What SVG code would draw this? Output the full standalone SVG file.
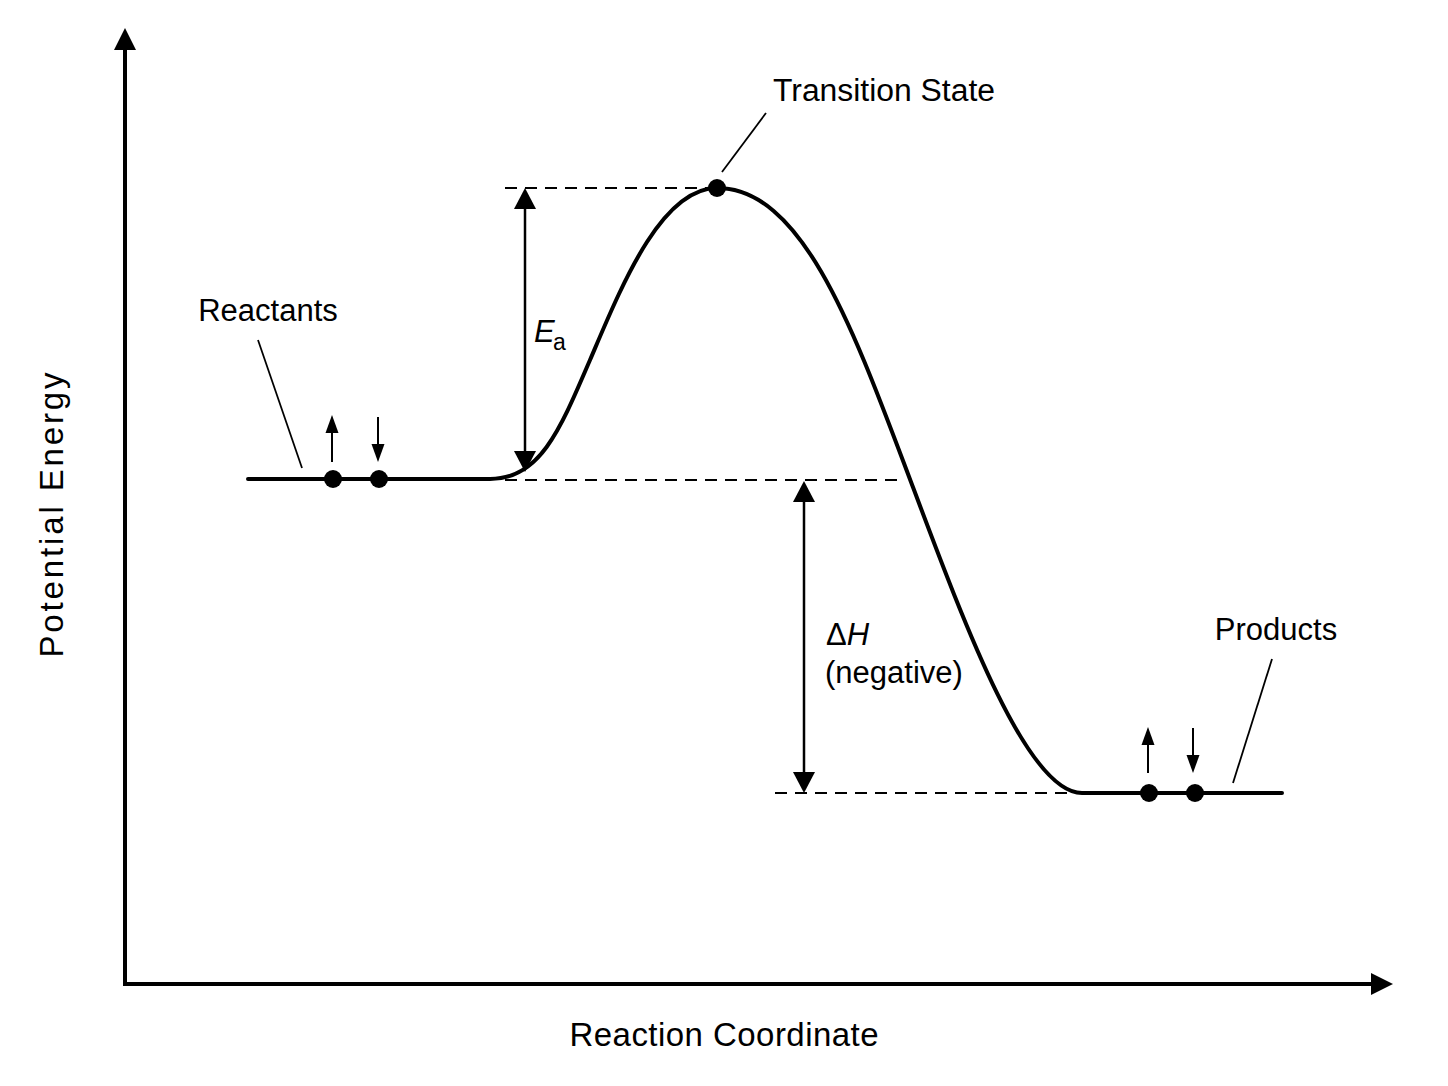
<svg xmlns="http://www.w3.org/2000/svg" width="1448" height="1086" viewBox="0 0 1448 1086">
<defs>
<style>
text{font-family:"Liberation Sans",Arial,sans-serif;fill:#000}
.lbl{font-size:31px}
.ax{font-size:33px}
.curve{fill:none;stroke:#000;stroke-width:4;stroke-linejoin:round;stroke-linecap:round}
.dash{fill:none;stroke:#000;stroke-width:2;stroke-dasharray:12 8}
.dim{fill:none;stroke:#000;stroke-width:2.5}
.lead{fill:none;stroke:#000;stroke-width:1.8}
.axis{fill:none;stroke:#000;stroke-width:4}
.spin{fill:none;stroke:#000;stroke-width:2}
</style>
</defs>
<rect width="1448" height="1086" fill="#fff"/>
<g id="axes">
<line class="axis" x1="125" y1="986" x2="125" y2="46"/>
<polygon points="125,28 114,50 136,50"/>
<line class="axis" x1="123" y1="984" x2="1374" y2="984"/>
<polygon points="1393,984 1371,973 1371,995"/>
<text class="ax" transform="translate(63,515) rotate(-90)" text-anchor="middle" font-size="35" textLength="285" lengthAdjust="spacing">Potential Energy</text>
<text class="ax" x="724" y="1046" text-anchor="middle" textLength="309" lengthAdjust="spacing">Reaction Coordinate</text>
</g>
<g id="guides">
<line class="dash" x1="505" y1="188" x2="712" y2="188"/>
<line class="dash" x1="505" y1="480" x2="905" y2="480"/>
<line class="dash" x1="775" y1="793" x2="1075" y2="793"/>
</g>
<g id="energy-curve">
<path class="curve" d="M248,479 L490,479 C540,479 560,430 590,360 C620,290 660,188 717,188 C800,188 850,320 905,466 C960,612 1025,793 1082,793 L1282,793"/>
</g>
<g id="reactants">
<circle cx="333" cy="479" r="9"/>
<circle cx="379" cy="479" r="9"/>
<line class="spin" x1="332" y1="462" x2="332" y2="430"/>
<polygon points="332,415 325.5,433 338.5,433"/>
<line class="spin" x1="378" y1="417" x2="378" y2="447"/>
<polygon points="378,462 371.5,444 384.5,444"/>
<line class="lead" x1="258" y1="340" x2="302" y2="468"/>
<text class="lbl" x="268" y="321" text-anchor="middle">Reactants</text>
</g>
<g id="transition-state">
<circle cx="717" cy="188" r="9"/>
<line class="lead" x1="766" y1="113" x2="722" y2="172"/>
<text class="lbl" x="884" y="101" text-anchor="middle" textLength="222" lengthAdjust="spacingAndGlyphs">Transition State</text>
</g>
<g id="products">
<circle cx="1149" cy="793" r="9"/>
<circle cx="1195" cy="793" r="9"/>
<line class="spin" x1="1148" y1="773" x2="1148" y2="742"/>
<polygon points="1148,727 1141.5,745 1154.5,745"/>
<line class="spin" x1="1193" y1="728" x2="1193" y2="758"/>
<polygon points="1193,773 1186.5,755 1199.5,755"/>
<line class="lead" x1="1272" y1="659" x2="1233" y2="783"/>
<text class="lbl" x="1276" y="640" text-anchor="middle">Products</text>
</g>
<g id="activation-energy">
<line class="dim" x1="525" y1="205" x2="525" y2="455"/>
<polygon points="525,188 514,209 536,209"/>
<polygon points="525,472 514,451 536,451"/>
<text class="lbl" x="534" y="342" font-style="italic">E</text>
<text x="553" y="350" font-size="23">a</text>
</g>
<g id="enthalpy">
<line class="dim" x1="804" y1="498" x2="804" y2="776"/>
<polygon points="804,481 793,502 815,502"/>
<polygon points="804,793 793,772 815,772"/>
<text class="lbl" x="826" y="645">Δ<tspan font-style="italic">H</tspan></text>
<text class="lbl" x="825" y="683">(negative)</text>
</g>
</svg>
